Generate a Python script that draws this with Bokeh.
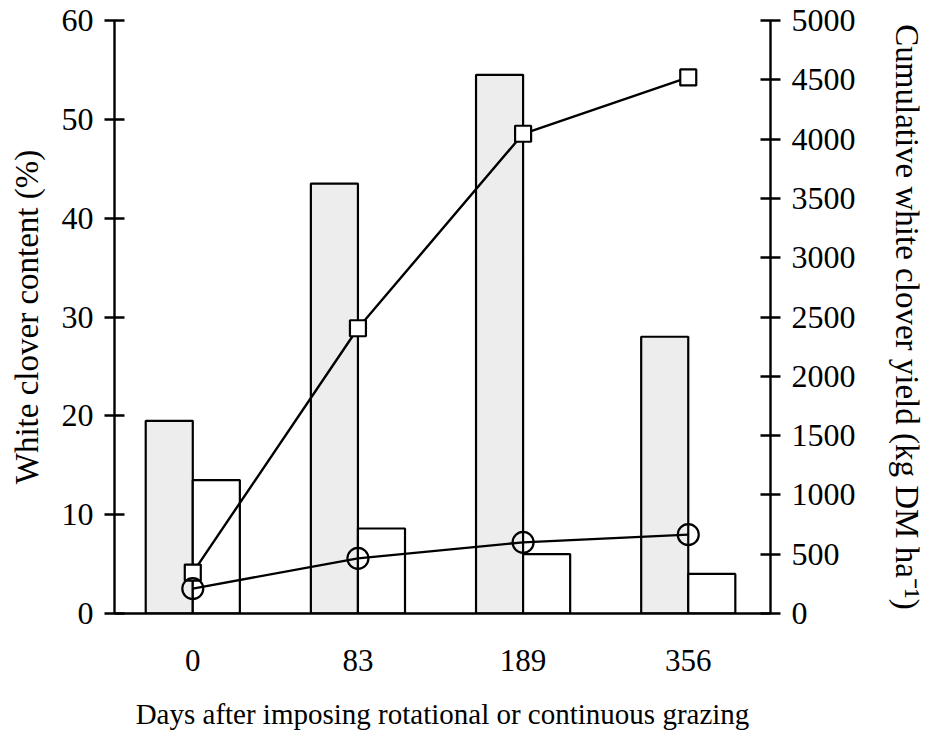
from bokeh.plotting import figure
from bokeh.models import Range1d, LinearAxis, FixedTicker, ColumnDataSource
from bokeh.transform import dodge
from bokeh.embed import file_html
from bokeh.resources import INLINE

# ---- data -------------------------------------------------------------
days = ["0", "83", "189", "356"]
content_shaded = [19.5, 43.5, 54.5, 28.0]      # white clover content (%) - shaded bars
content_open = [13.5, 8.6, 6.0, 4.0]           # white clover content (%) - open bars
yield_squares = [345, 2405, 4045, 4520]        # cumulative yield (kg DM/ha) - squares
yield_circles = [210, 465, 600, 665]           # cumulative yield (kg DM/ha) - circles
content_ticks = [0, 10, 20, 30, 40, 50, 60]
yield_ticks = [0, 500, 1000, 1500, 2000, 2500, 3000, 3500, 4000, 4500, 5000]

idx = list(range(len(days)))
src = ColumnDataSource(dict(x=idx, a=content_shaded, b=content_open,
                            s=yield_squares, c=yield_circles))

FONT = "Liberation Serif"

p = figure(width=928, height=737, output_backend="svg", toolbar_location=None,
           x_range=Range1d(-0.474, 3.498), y_range=Range1d(0, 60),
           min_border_left=114, min_border_right=158,
           min_border_top=20, min_border_bottom=124)
p.extra_y_ranges = {"kg": Range1d(0, 5000)}
p.grid.visible = False
p.outline_line_color = None
p.background_fill_color = "white"
p.border_fill_color = "white"

W = 0.285
p.vbar(x=dodge("x", -W / 2, range=p.x_range), top="a", bottom=0, width=W, source=src,
       fill_color="#ededed", line_color="black", line_width=2.2)
p.vbar(x=dodge("x", W / 2, range=p.x_range), top="b", bottom=0, width=W, source=src,
       fill_color="white", line_color="black", line_width=2.2)

p.line("x", "s", source=src, y_range_name="kg", line_color="black", line_width=2.4)
p.line("x", "c", source=src, y_range_name="kg", line_color="black", line_width=2.4)
p.scatter("x", "s", source=src, y_range_name="kg", marker="square", size=16,
          fill_color="white", line_color="black", line_width=2.2)
p.scatter("x", "c", source=src, y_range_name="kg", marker="circle", size=21,
          fill_color=None, line_color="black", line_width=2.2)

# x axis
xa = p.xaxis[0]
xa.ticker = FixedTicker(ticks=idx)
xa.major_label_overrides = {i: d for i, d in enumerate(days)}
xa.major_tick_in = 0
xa.major_tick_out = 0
xa.minor_tick_in = 0
xa.minor_tick_out = 0
xa.axis_line_width = 2.4
xa.axis_line_color = "black"
xa.major_label_text_font = FONT
xa.major_label_text_font_size = "31px"
xa.major_label_text_color = "black"
xa.major_label_standoff = 36
xa.axis_label = "Days after imposing rotational or continuous grazing"
xa.axis_label_text_font = FONT
xa.axis_label_text_font_size = "29px"
xa.axis_label_text_font_style = "normal"
xa.axis_label_text_color = "black"
xa.axis_label_standoff = 24

def style_y(ax, ticks, label, standoff_lbl):
    ax.ticker = FixedTicker(ticks=ticks)
    ax.major_tick_in = 10
    ax.major_tick_out = 10
    ax.minor_tick_in = 0
    ax.minor_tick_out = 0
    ax.major_tick_line_width = 2.4
    ax.major_tick_line_color = "black"
    ax.axis_line_width = 2.4
    ax.axis_line_color = "black"
    ax.major_label_text_font = FONT
    ax.major_label_text_font_size = "32px"
    ax.major_label_text_color = "black"
    ax.major_label_standoff = 11
    ax.axis_label = label
    ax.axis_label_text_font = FONT
    ax.axis_label_text_font_size = "33px"
    ax.axis_label_text_font_style = "normal"
    ax.axis_label_text_color = "black"
    ax.axis_label_standoff = standoff_lbl

style_y(p.yaxis[0], content_ticks, "White clover content (%)", 14)
ra = LinearAxis(y_range_name="kg")
style_y(ra, yield_ticks, "Cumulative white clover yield (kg DM ha\u207b\u00b9)", 30)
p.add_layout(ra, "right")

open("out.html", "w").write(file_html(p, INLINE))
